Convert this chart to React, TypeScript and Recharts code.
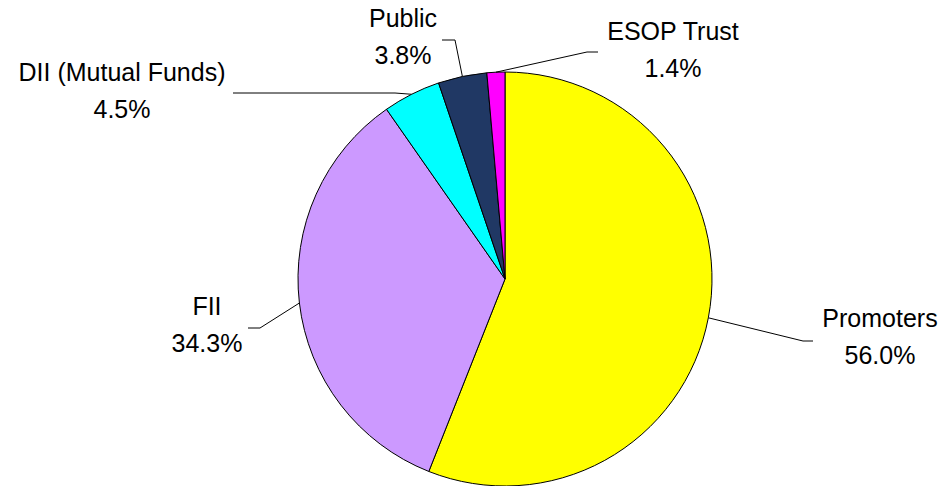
import React from 'react';
import { PieChart, Pie, Cell } from 'recharts';

const categories = ['Promoters', 'FII', 'DII (Mutual Funds)', 'Public', 'ESOP Trust'];
const shares = [56.0, 34.3, 4.5, 3.8, 1.4];
const colors = ['#FFFF00', '#CC99FF', '#00FFFF', '#203864', '#FF00FF'];

const data = categories.map((name, i) => ({ name, value: shares[i] }));

// label placement relative to pie centre: text centre x, first baseline y, leader end (x,y), elbow x
const labelLayout: Record<string, { tx: number; ty: number; lx: number; ly: number; ex: number }> = {
  'Promoters': { tx: 375, ty: 48, lx: 308, ly: 62, ex: 298 },
  'FII': { tx: -298, ty: 36, lx: -257, ly: 49, ex: -245 },
  'DII (Mutual Funds)': { tx: -383, ty: -198, lx: -272, ly: -186, ex: -110 },
  'Public': { tx: -102, ty: -252, lx: -63, ly: -239, ex: -50 },
  'ESOP Trust': { tx: 168, ty: -239, lx: 93, ly: -227, ex: 82 },
};

const RADIAN = Math.PI / 180;

const renderLabel = (props: any) => {
  const { cx, cy, midAngle, outerRadius, name, value } = props;
  const L = labelLayout[name];
  if (!L) return null;
  const sx = cx + outerRadius * Math.cos(-midAngle * RADIAN);
  const sy = cy + outerRadius * Math.sin(-midAngle * RADIAN);
  const ex = cx + L.ex;
  const ey = cy + L.ly;
  const lx = cx + L.lx;
  return (
    <g>
      <polyline points={`${sx},${sy} ${ex},${ey} ${lx},${ey}`} fill="none" stroke="#000" strokeWidth={1} />
      <text x={cx + L.tx} y={cy + L.ty} textAnchor="middle" fontSize={25} fill="#000" fontFamily="'Liberation Sans', Arial, sans-serif">
        {name}
      </text>
      <text x={cx + L.tx} y={cy + L.ty + 37} textAnchor="middle" fontSize={25} fill="#000" fontFamily="'Liberation Sans', Arial, sans-serif">
        {value.toFixed(1) + '%'}
      </text>
    </g>
  );
};

export default function App() {
  return (
    <div style={{ position: 'absolute', left: 0, top: 0, width: 942, height: 486, background: '#fff' }}>
      <PieChart width={942} height={486} margin={{ top: 0, right: 0, bottom: 0, left: 0 }}>
        <Pie
          data={data}
          dataKey="value"
          nameKey="name"
          cx={505}
          cy={279}
          outerRadius={207}
          startAngle={90}
          endAngle={-270}
          stroke="#000"
          strokeWidth={1}
          label={renderLabel}
          labelLine={false}
          isAnimationActive={false}
        >
          {data.map((d, i) => (
            <Cell key={d.name} fill={colors[i]} />
          ))}
        </Pie>
      </PieChart>
    </div>
  );
}
